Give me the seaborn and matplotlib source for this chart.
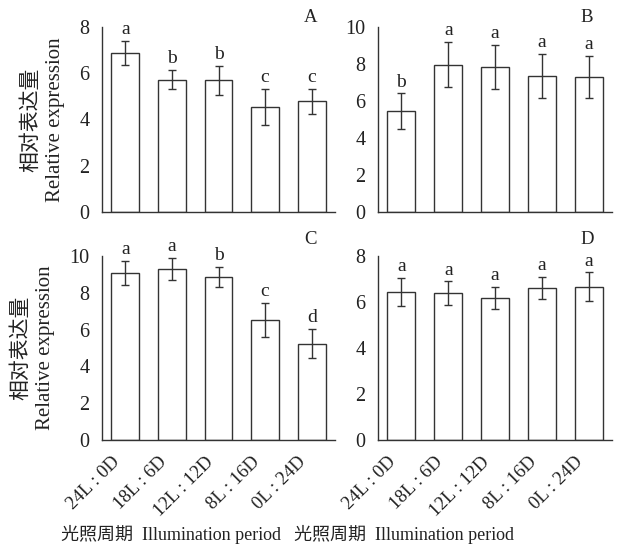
import matplotlib
matplotlib.use("Agg")
import matplotlib.pyplot as plt
import matplotlib.transforms as mtransforms
import seaborn as sns
from matplotlib.ticker import MultipleLocator, FixedLocator

# photoperiod groups (x categories)
periods = ["24L : 0D", "18L : 6D", "12L : 12D", "8L : 16D", "0L : 24D"]

# relative expression
vals_a = [6.87, 5.72, 5.69, 4.54, 4.78]
err_a = [0.52, 0.42, 0.63, 0.79, 0.53]
sig_a = ["a", "b", "b", "c", "c"]

vals_b = [5.44, 7.96, 7.85, 7.34, 7.29]
err_b = [0.97, 1.23, 1.19, 1.20, 1.13]
sig_b = ["b", "a", "a", "a", "a"]

vals_c = [9.10, 9.31, 8.88, 6.53, 5.23]
err_c = [0.65, 0.60, 0.54, 0.93, 0.79]
sig_c = ["a", "a", "b", "c", "d"]

vals_d = [6.44, 6.38, 6.19, 6.60, 6.67]
err_d = [0.62, 0.52, 0.48, 0.49, 0.62]
sig_d = ["a", "a", "a", "a", "a"]

sns.set_style("white")
plt.rcParams["font.family"] = ["Liberation Serif", "Noto Sans CJK SC"]
line_col = "#333333"
txt_col = "#222222"

fig = plt.figure(figsize=(6.26, 5.47), dpi=100)

# axes boxes in pixels (left, top, right, bottom)
boxes = {
    "A": (102, 27, 335, 212),
    "B": (378, 27, 612, 212),
    "C": (102, 256, 335, 440),
    "D": (378, 256, 612, 440),
}
W, H = 626, 547

panels = [
    ("A", vals_a, err_a, sig_a, 8, 1.049),
    ("B", vals_b, err_b, sig_b, 10, 1.049),
    ("C", vals_c, err_c, sig_c, 10, 1.087),
    ("D", vals_d, err_d, sig_d, 8, 1.087),
]

for name, vals, errs, sigs, top, ly in panels:
    l, t, r, b = boxes[name]
    ax = fig.add_axes([l / W, (H - b) / H, (r - l) / W, (b - t) / H])
    sns.barplot(x=periods, y=vals, order=periods, ax=ax, color="white",
                saturation=1, edgecolor=line_col, linewidth=1.0, width=0.6)
    pos = list(range(len(periods)))
    ax.errorbar(pos, vals, yerr=errs, fmt="none", ecolor=line_col,
                elinewidth=1.0, capsize=3, capthick=1.0)
    for i, (v, e, s) in enumerate(zip(vals, errs, sigs)):
        ax.annotate(s, (i, v + e), xytext=(0, 2), textcoords="offset points",
                    ha="center", va="bottom", fontsize=14, color=txt_col)

    ax.set_xlim(-0.5, len(periods) - 0.5)
    ax.set_ylim(0, top)
    sns.despine(ax=ax)
    for sp in ["left", "bottom"]:
        ax.spines[sp].set_color(line_col)
        ax.spines[sp].set_linewidth(1.0)

    ax.yaxis.set_major_locator(MultipleLocator(2))
    ax.yaxis.set_minor_locator(MultipleLocator(1))
    ax.tick_params(axis="y", which="both", direction="in", length=4,
                   width=1.0, color=line_col, labelsize=14.5, pad=9,
                   labelcolor=txt_col)
    ax.xaxis.set_minor_locator(FixedLocator([p + 0.5 for p in pos]))
    ax.tick_params(axis="x", which="minor", direction="in", length=4,
                   width=1.0, color=line_col)
    ax.tick_params(axis="x", which="major", length=0)

    ax.text(0.893, ly, name, transform=ax.transAxes, ha="center",
            va="center", fontsize=13.5, color=txt_col)

    if name in ("C", "D"):
        ax.set_xticks(pos)
        ax.set_xticklabels(periods, rotation=45, ha="right",
                           rotation_mode="anchor", fontsize=13.5,
                           color=txt_col)
        ax.tick_params(axis="x", which="major", pad=6)
        shift = mtransforms.ScaledTranslation(-14 / 100, -5 / 100,
                                              fig.dpi_scale_trans)
        for lab in ax.get_xticklabels():
            lab.set_transform(lab.get_transform() + shift)
        ax.set_xlabel("光照周期  Illumination period", fontsize=13,
                      color=txt_col)
        lx = 0.298 if name == "C" else 0.111
        ax.xaxis.set_label_coords(lx, -0.516)
        ax.xaxis.label.set_va("center")
    else:
        ax.set_xticklabels([])
    if name in ("A", "C"):
        ax.set_ylabel("相对表达量\nRelative expression", fontsize=15,
                      color=txt_col, labelpad=10, linespacing=1.4)
    else:
        ax.set_ylabel("")

fig.savefig("out.png", dpi=100, facecolor="white")
